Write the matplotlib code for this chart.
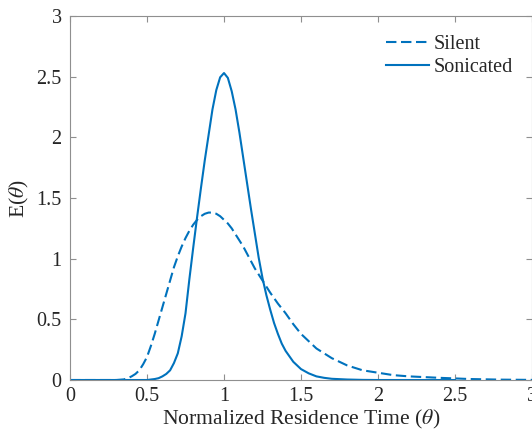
#!/usr/bin/env python3
# -*- coding: utf-8 -*-
"""
Residence time distribution: silent vs sonicated.
"""

import matplotlib
matplotlib.use("Agg")
import matplotlib.pyplot as plt

# Sonicated curve
theta_sonicated = [0.0, 0.5, 0.55, 0.575, 0.6, 0.625, 0.65, 0.675, 0.7, 0.725,
                   0.75, 0.775, 0.8, 0.825, 0.85, 0.875, 0.9, 0.925, 0.95, 0.975,
                   1.0, 1.025, 1.05, 1.075, 1.1, 1.125, 1.15, 1.175, 1.2, 1.225,
                   1.25, 1.275, 1.3, 1.325, 1.35, 1.375, 1.4, 1.45, 1.5, 1.55,
                   1.6, 1.65, 1.7, 1.8, 1.9, 2.0, 2.5]
e_sonicated = [0.0, 0.0, 0.008, 0.015, 0.03, 0.05, 0.08, 0.14, 0.22, 0.36,
               0.55, 0.83, 1.09, 1.34, 1.58, 1.81, 2.02, 2.23, 2.39, 2.495,
               2.53, 2.49, 2.38, 2.23, 2.04, 1.83, 1.62, 1.41, 1.21, 1.01,
               0.84, 0.70, 0.58, 0.47, 0.38, 0.30, 0.24, 0.15, 0.09, 0.055,
               0.03, 0.018, 0.01, 0.004, 0.001, 0.0, 0.0]

# Silent curve
theta_silent = [0.0, 0.3, 0.35, 0.375, 0.4, 0.425, 0.45, 0.475, 0.5, 0.525,
                0.55, 0.575, 0.6, 0.625, 0.65, 0.675, 0.7, 0.725, 0.75, 0.775,
                0.8, 0.825, 0.85, 0.875, 0.9, 0.925, 0.95, 0.975, 1.0, 1.025,
                1.05, 1.075, 1.1, 1.125, 1.15, 1.175, 1.2, 1.25, 1.3, 1.35,
                1.4, 1.45, 1.5, 1.55, 1.6, 1.65, 1.7, 1.8, 1.9, 2.0,
                2.1, 2.2, 2.4, 2.6, 2.8, 3.0]
e_silent = [0.0, 0.0, 0.005, 0.015, 0.03, 0.05, 0.08, 0.13, 0.19, 0.28,
            0.38, 0.49, 0.60, 0.71, 0.82, 0.93, 1.02, 1.10, 1.17, 1.23,
            1.28, 1.32, 1.35, 1.37, 1.38, 1.38, 1.37, 1.35, 1.32, 1.29,
            1.25, 1.20, 1.15, 1.10, 1.04, 0.98, 0.92, 0.82, 0.72, 0.63,
            0.55, 0.46, 0.38, 0.32, 0.26, 0.22, 0.18, 0.12, 0.08, 0.06,
            0.04, 0.03, 0.018, 0.008, 0.003, 0.001]

x_ticks = [0, 0.5, 1, 1.5, 2, 2.5, 3]
x_tick_labels = ['0', '0.5', '1', '1.5', '2', '2.5', '3']
y_ticks = [0, 0.5, 1, 1.5, 2, 2.5, 3]
y_tick_labels = ['0', '0.5', '1', '1.5', '2', '2.5', '3']

line_color = '#0072BD'
text_color = '#262626'
axis_color = '#8f8f8f'

plt.rcParams['font.family'] = ['Liberation Serif', 'DejaVu Serif']
plt.rcParams['mathtext.fontset'] = 'stix'

fig = plt.figure(figsize=(5.32, 4.34), dpi=100)
ax = fig.add_axes([0.1316, 0.1244, 0.8684, 0.8387])

ax.plot(theta_silent, e_silent, color=line_color, linewidth=1.5,
        linestyle=(0, (5, 2.2)), label='Silent')
ax.plot(theta_sonicated, e_sonicated, color=line_color, linewidth=1.5,
        label='Sonicated')

ax.set_xlim(0, 3)
ax.set_ylim(0, 3)
ax.set_xticks(x_ticks)
ax.set_xticklabels(x_tick_labels)
ax.set_yticks(y_ticks)
ax.set_yticklabels(y_tick_labels)

ax.tick_params(direction='in', length=4, width=0.8, color=axis_color,
               labelcolor=text_color, labelsize=14.5, top=True, right=True)
ax.tick_params(axis='x', pad=5)
ax.tick_params(axis='y', pad=6)
for spine in ax.spines.values():
    spine.set_color(axis_color)
    spine.set_linewidth(0.8)

ax.set_xlabel(r'Normalized Residence Time ($\theta$)', fontsize=15.6,
              color=text_color, labelpad=1.5)
ax.set_ylabel(r'E($\theta$)', fontsize=15.6, color=text_color, labelpad=4)

ax.legend(loc='upper right', frameon=False, fontsize=14.5, handlelength=2.1,
          handletextpad=0.25, labelspacing=0.2, borderaxespad=0.55,
          labelcolor=text_color)

fig.savefig('out.png', dpi=100)
